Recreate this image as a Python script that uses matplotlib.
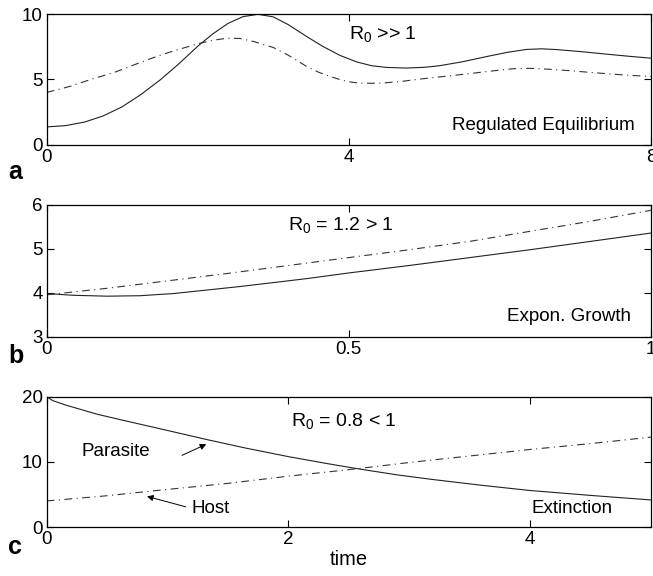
import matplotlib
matplotlib.use("Agg")
import matplotlib.pyplot as plt

plt.rcParams['font.family'] = ['Liberation Sans', 'DejaVu Sans']
plt.rcParams['mathtext.fontset'] = 'custom'
plt.rcParams['mathtext.rm'] = 'Liberation Sans'
plt.rcParams['mathtext.it'] = 'Liberation Sans:italic'

# panel a: regulated equilibrium (R0 >> 1)
ta_par = [0, 0.25, 0.5, 0.75, 1.0, 1.25, 1.5, 1.75, 2.0, 2.2, 2.4, 2.6, 2.8, 3.0,
          3.2, 3.44, 3.65, 3.88, 4.1, 4.3, 4.5, 4.76, 5.0, 5.2, 5.5, 5.87, 6.1, 6.35,
          6.55, 6.75, 7.1, 7.41, 7.7, 8.0]
ya_par = [1.35, 1.45, 1.72, 2.2, 2.9, 3.85, 4.95, 6.2, 7.55, 8.5, 9.3, 9.82, 10.0, 9.8,
          9.2, 8.3, 7.55, 6.85, 6.35, 6.05, 5.92, 5.87, 5.93, 6.05, 6.35, 6.81, 7.08, 7.3,
          7.35, 7.29, 7.12, 6.94, 6.78, 6.63]
ta_host = [0, 0.3, 0.57, 0.9, 1.24, 1.45, 1.68, 2.03, 2.2, 2.38, 2.55, 2.74, 3.0, 3.2, 3.44,
           3.6, 3.75, 3.9, 4.02, 4.14, 4.3, 4.45, 4.7, 4.98, 5.3, 5.65, 5.9, 6.17, 6.4,
           6.62, 6.9, 7.19, 7.5, 7.75, 8.0]
ya_host = [4.0, 4.45, 4.97, 5.55, 6.3, 6.75, 7.19, 7.78, 8.0, 8.16, 8.15, 7.91, 7.45, 6.85, 6.0,
           5.55, 5.23, 4.95, 4.8, 4.72, 4.7, 4.72, 4.85, 5.05, 5.25, 5.48, 5.65, 5.82, 5.85,
           5.79, 5.68, 5.54, 5.4, 5.3, 5.23]

# panel b: exponential growth (R0 = 1.2)
tb_par = [0, 0.044, 0.1, 0.154, 0.21, 0.265, 0.32, 0.375, 0.43, 0.5, 0.6, 0.7, 0.8, 0.9, 1.0]
yb_par = [3.98, 3.94, 3.92, 3.93, 3.98, 4.06, 4.14, 4.23, 4.32, 4.45, 4.62, 4.8, 4.98, 5.17, 5.36]
tb_host = [0, 0.1, 0.2, 0.3, 0.4, 0.5, 0.6, 0.7, 0.8, 0.9, 1.0]
yb_host = [3.95, 4.1, 4.27, 4.44, 4.62, 4.8, 4.98, 5.17, 5.4, 5.63, 5.88]

# panel c: extinction (R0 = 0.8)
tc_par = [0, 0.05, 0.16, 0.42, 0.65, 0.91, 1.33, 1.65, 2.0, 2.3, 2.57, 2.9, 3.19, 3.6, 4.0, 4.5, 5.0]
yc_par = [20, 19.4, 18.7, 17.3, 16.3, 15.2, 13.4, 12.1, 10.8, 9.8, 8.95, 8.0, 7.3, 6.4, 5.6, 4.85, 4.15]
tc_host = [0, 0.5, 0.91, 1.5, 2.0, 2.57, 3.0, 3.5, 4.0, 4.5, 5.0]
yc_host = [4.0, 4.8, 5.6, 6.7, 7.8, 8.95, 9.9, 10.9, 11.9, 12.8, 13.8]

panels = [
    dict(t_par=ta_par, y_par=ya_par, t_host=ta_host, y_host=ya_host,
         xlim=(0, 8), ylim=(0, 10), xticks=[0, 4, 8], xlabels=['0', '4', '8'],
         yticks=[0, 5, 10], rnote=r'$\mathrm{R}_0$ >> 1', rpos=(4.0, 8.5),
         regime='Regulated Equilibrium', gpos=(7.79, 1.45), letter='a', ly=172),
    dict(t_par=tb_par, y_par=yb_par, t_host=tb_host, y_host=yb_host,
         xlim=(0, 1), ylim=(3, 6), xticks=[0, 0.5, 1], xlabels=['0', '0.5', '1'],
         yticks=[3, 4, 5, 6], rnote=r'$\mathrm{R}_0$ = 1.2 > 1', rpos=(0.40, 5.55),
         regime='Expon. Growth', gpos=(0.967, 3.45), letter='b', ly=356),
    dict(t_par=tc_par, y_par=yc_par, t_host=tc_host, y_host=yc_host,
         xlim=(0, 5), ylim=(0, 20), xticks=[0, 2, 4], xlabels=['0', '2', '4'],
         yticks=[0, 10, 20], rnote=r'$\mathrm{R}_0$ = 0.8 < 1', rpos=(2.02, 16.2),
         regime='Extinction', gpos=(4.68, 2.8), letter='c', ly=547),
]

W, H = 653, 576
fig = plt.figure(figsize=(W / 100, H / 100), dpi=100)

# axes boxes in pixels: (top, bottom)
boxes = [(14.3, 144.5), (205, 336.5), (396.7, 527)]
left_px, right_px = 46.7, 651

axes = []
for p, (top, bot) in zip(panels, boxes):
    ax = fig.add_axes([left_px / W, 1 - bot / H, (right_px - left_px) / W, (bot - top) / H])
    ax.plot(p['t_par'], p['y_par'], color='#222222', lw=0.8, ls='-')
    ax.plot(p['t_host'], p['y_host'], color='#333333', lw=0.8, ls=(0, (7, 4, 1, 4)))
    ax.set_xlim(*p['xlim'])
    ax.set_ylim(*p['ylim'])
    ax.set_xticks(p['xticks'])
    ax.set_xticklabels(p['xlabels'])
    ax.set_yticks(p['yticks'])
    ax.tick_params(direction='in', top=True, right=True, length=5, width=0.8,
                   labelsize=13.5, pad=3)
    for s in ax.spines.values():
        s.set_linewidth(0.9)
    ax.text(p['rpos'][0], p['rpos'][1], p['rnote'], fontsize=14, va='center', ha='left')
    ax.text(p['gpos'][0], p['gpos'][1], p['regime'], fontsize=13.5, va='center', ha='right')
    fig.text(8 / W, 1 - p['ly'] / H, p['letter'], fontsize=18, fontweight='bold',
             ha='left', va='center')
    axes.append(ax)

axc = axes[2]
axc.set_xlabel('time', fontsize=14.5, labelpad=1)

# arrows pointing to the two populations
arrow_kw = dict(arrowstyle='-|>', lw=0.7, color='k', mutation_scale=9, shrinkA=0, shrinkB=0)
axc.text(0.29, 11.6, 'Parasite', fontsize=13.5, va='center', ha='left')
axc.annotate('', xy=(1.32, 12.7), xytext=(1.12, 11.0), arrowprops=arrow_kw)
axc.text(1.2, 2.8, 'Host', fontsize=13.5, va='center', ha='left')
axc.annotate('', xy=(0.83, 4.7), xytext=(1.15, 3.1), arrowprops=arrow_kw)

fig.savefig('out.png', dpi=100)
